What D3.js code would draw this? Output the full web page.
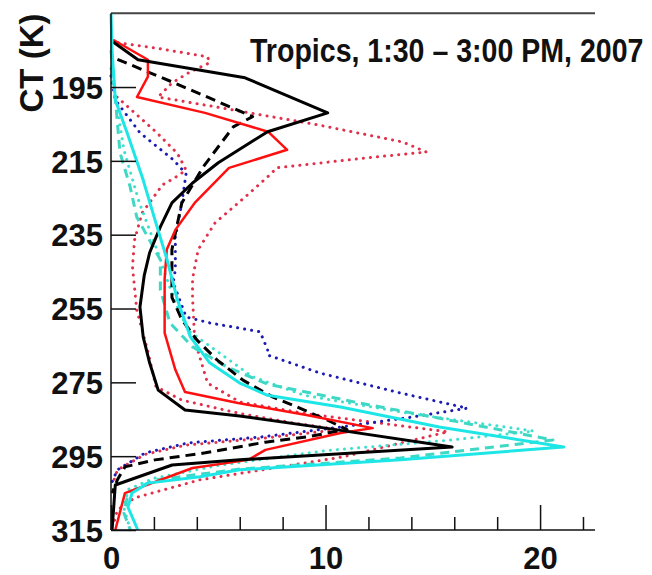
<!DOCTYPE html>
<html>
<head>
<meta charset="utf-8">
<script src="https://cdn.jsdelivr.net/npm/d3@7"></script>
<style>
  html, body { margin: 0; padding: 0; background: #fff; }
  svg { display: block; }
  text { font-family: "Liberation Sans", Arial, Helvetica, sans-serif; font-weight: bold; fill: #111; }
</style>
</head>
<body>
<svg id="chart" width="652" height="575"></svg>
<script>
// ---- data: [frequency, CT (K)] ----
const titleText = "Tropics, 1:30 \u2013 3:00 PM, 2007";
const yLabel = "CT (K)";
const yTicks = [195, 215, 235, 255, 275, 295, 315];
const xMajorTicks = [0, 10, 20];
const xMinorTicks = [2, 4, 6, 8, 12, 14, 16, 18, 22];

const blackSolid = [[0.1,182.8],[1.26,187.6],[6.25,192.5],[10.1,202.0],[7.3,207.1],[6.7,209.3],[5.0,215.5],[3.8,221.0],[2.84,226.4],[2.3,232.9],[1.8,239.9],[1.55,246],[1.35,254.6],[1.5,262.7],[1.8,269.7],[2.2,277.1],[3.45,282.5],[6.0,284.1],[10.0,287.4],[15.9,292.5],[6.0,296.0],[2.85,297.4],[0.2,302.8],[0.05,315]];
const blackDashed = [[0.3,187.5],[2.84,193.6],[6.6,203.0],[5.7,205.8],[4.3,216.6],[3.3,226.4],[2.84,239],[2.84,252],[3.3,258],[4.0,263.5],[4.94,268.9],[6.15,274.4],[7.55,279],[8.44,281.1],[10.07,285.2],[11.0,287.8],[9.1,289.8],[7.2,291.2],[4.4,294.1],[2.05,296],[0.65,297.9],[0.3,301.4],[0.05,305]];
const redSolid = [[0.1,182.2],[1.72,187.6],[1.72,192.2],[1.21,197.7],[4.38,202.0],[7.32,207.1],[8.21,212.0],[5.5,216.9],[3.9,226.4],[3.0,233.7],[2.6,239],[2.5,247],[2.5,254.6],[2.5,261.6],[3.0,271.6],[3.45,277.6],[5.92,280.6],[9.04,283.8],[12.2,287.4],[10.7,288.7],[7.2,293.3],[6.4,296.0],[3.8,298.2],[0.65,305],[0.2,315]];
const redDotMax = [[0.33,183.0],[2.05,184.4],[4.5,186.8],[4.6,188.4],[3.6,191.2],[2.84,193.9],[2.2,197.7],[5.0,200.5],[9.6,205.2],[13.6,209.9],[14.7,212.6],[11.9,214.2],[7.7,216.9],[7.5,218.3],[6.25,224.8],[4.85,231.8],[4.06,239.1],[3.8,247],[3.8,252],[3.9,263.5],[4.5,275.2],[6.0,280.3],[9.1,283.5],[15.7,288.4],[10.8,295.2],[4.15,301.4],[1.1,306.3],[0.3,309.6],[0.1,313.6]];
const redDotMin = [[0.28,197.7],[1.2,202.5],[2.14,207.4],[3.1,213],[3.5,217.5],[3.0,219.5],[2.4,221.5],[1.45,229.1],[1.1,236.4],[1.0,243.7],[1.2,255.4],[1.7,266.2],[2.1,276.2],[3.3,279.8],[5.9,283.3],[8.5,286],[10.6,287.8],[7.0,290.2],[3.5,292.0],[1.6,294.5],[0.3,298.7],[0.05,303]];
const blueDot = [[0.0,192],[0.2,198.5],[1.35,207.4],[2.9,214.7],[3.5,218.5],[3.3,226.4],[3.0,235.6],[3.0,244.5],[2.9,248],[3.5,257.3],[4.6,258.9],[6.95,261.3],[7.3,266.2],[7.3,267.6],[9.75,272.5],[13.5,277.9],[16.6,282],[13.8,284.6],[10.7,287.1],[7.0,289.8],[3.6,291.4],[1.6,294.1],[0.3,298.7],[0.05,302]];
const cyanSolid = [[0.0,175.2],[0.05,185],[0.2,198.5],[0.75,207.4],[1.49,220],[2.05,231],[2.6,241.5],[3.1,252.7],[3.7,262.7],[4.6,269.7],[6.0,275.2],[7.3,278.5],[10.7,281.7],[15.3,287.1],[21.1,292.5],[13.5,296],[6.0,298.7],[4.15,300.6],[1.72,302.3],[0.98,305],[0.79,308.8],[1.25,315]];
const cyanDashed = [[0.0,185],[0.42,212.8],[0.89,222],[1.2,230.2],[2.3,241.8],[2.3,250],[2.75,258.9],[3.8,265.4],[5.4,270.8],[7.3,275.5],[11.5,280.5],[16,285.5],[20.6,290.6],[13.5,295.5],[6.0,298.5],[2.0,301.5],[0.8,305],[0.6,310.4],[0.9,315]];
const cyanDot = [[0.0,190],[0.6,212],[1.3,226],[2.2,240],[2.9,252],[3.6,261],[4.85,266.2],[6.6,273.5],[9.0,278.5],[14,283.5],[19.7,288.2],[15.9,290.6],[10,293.5],[5,297.5],[2,301],[0.8,304],[0.6,309],[0.9,315]];

const seriesList = [
  {data: redDotMin,  color: "#e0304a", width: 3,   dash: "0.1,7", cap: "round"},
  {data: redDotMax,  color: "#e0304a", width: 3,   dash: "0.1,7", cap: "round"},
  {data: blueDot,    color: "#1c1cb4", width: 3,   dash: "0.1,7", cap: "round"},
  {data: cyanDot,    color: "#3fe0cf", width: 3,   dash: "0.1,7", cap: "round"},
  {data: cyanDashed, color: "#3fd8c4", width: 3,   dash: "9,6",   cap: "butt"},
  {data: blackDashed,color: "#000000", width: 3,   dash: "10,6",  cap: "butt"},
  {data: redSolid,   color: "#ff1010", width: 2.5, dash: null,    cap: "butt"},
  {data: blackSolid, color: "#000000", width: 3,   dash: null,    cap: "butt"},
  {data: cyanSolid,  color: "#1ee6e6", width: 3,   dash: null,    cap: "butt"}
];

const svg = d3.select("#chart");
const x = d3.scaleLinear().domain([0, 22.56]).range([111, 595]);
const y = d3.scaleLinear().domain([175, 315]).range([13.2, 530]);

// top frame line
svg.append("line").attr("x1", x(0)).attr("x2", x(22.56)).attr("y1", y(175)).attr("y2", y(175))
  .attr("stroke", "#444").attr("stroke-width", 2);

const line = d3.line().x(d => x(d[0])).y(d => y(d[1]));
seriesList.forEach(s => {
  const p = svg.append("path").datum(s.data).attr("d", line)
    .attr("fill", "none").attr("stroke", s.color).attr("stroke-width", s.width)
    .attr("stroke-linejoin", "round").attr("stroke-linecap", s.cap);
  if (s.dash) p.attr("stroke-dasharray", s.dash);
});

// y axis
const yAxis = svg.append("g").attr("transform", `translate(${x(0)},0)`)
  .call(d3.axisLeft(y).tickValues(yTicks).tickSize(-25).tickPadding(8).tickFormat(d3.format("d")));
yAxis.select(".domain").attr("stroke", "#111").attr("stroke-width", 1.5).attr("d", `M0,${y(175)}V${y(315)}`);
yAxis.selectAll(".tick line").attr("stroke", "#111").attr("stroke-width", 1.5);
yAxis.selectAll("text").attr("font-size", 31).attr("font-family", "Liberation Sans, Arial, sans-serif")
  .attr("font-weight", "bold").attr("fill", "#111").attr("dy", "0.36em");

// x axis minor
const xMinor = svg.append("g").attr("transform", `translate(0,${y(315)})`)
  .call(d3.axisBottom(x).tickValues(xMinorTicks).tickSize(-13).tickFormat(""));
xMinor.select(".domain").remove();
xMinor.selectAll(".tick line").attr("stroke", "#111").attr("stroke-width", 1.5);

// x axis major
const xAxis = svg.append("g").attr("transform", `translate(0,${y(315)})`)
  .call(d3.axisBottom(x).tickValues(xMajorTicks).tickSize(-25).tickPadding(17).tickFormat(d3.format("d")));
xAxis.select(".domain").attr("stroke", "#111").attr("stroke-width", 1.5).attr("d", `M${x(0)},0H${x(22.56)}`);
xAxis.selectAll(".tick line").attr("stroke", "#111").attr("stroke-width", 1.5);
xAxis.selectAll("text").attr("font-size", 31).attr("font-family", "Liberation Sans, Arial, sans-serif")
  .attr("font-weight", "bold").attr("fill", "#111");

// y label
svg.append("text").attr("transform", "translate(43,63) rotate(-90)")
  .attr("text-anchor", "middle").attr("font-size", 33).text(yLabel);

// title (horizontally condensed like the original narrow face)
svg.append("text").attr("transform", "translate(250,62) scale(0.84,1)")
  .attr("x", 0).attr("y", 0).attr("font-size", 34).text(titleText);
</script>
</body>
</html>
